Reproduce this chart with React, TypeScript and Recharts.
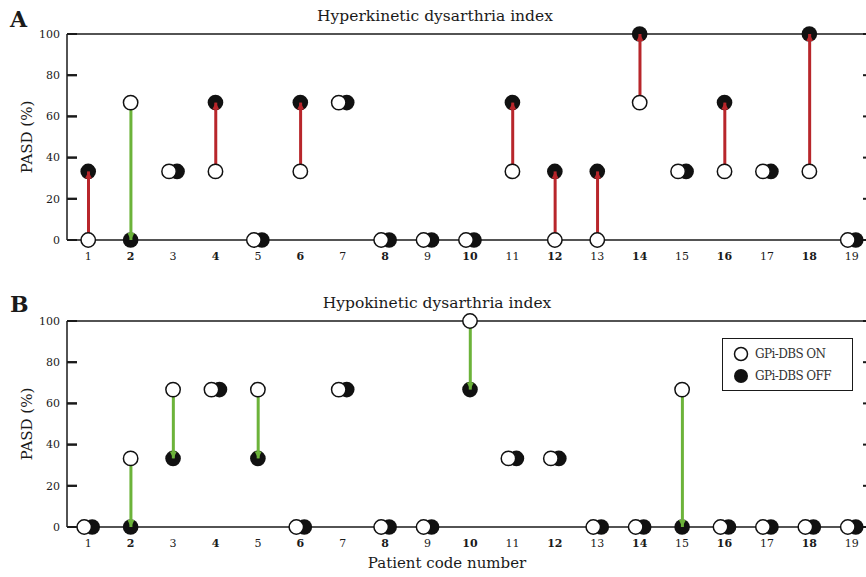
import React from "react"
import {
  ComposedChart,
  XAxis,
  YAxis,
  Scatter,
  Bar,
  ReferenceLine,
  Legend,
} from "recharts"

const PATIENTS = [
  "1", "2", "3", "4", "5", "6", "7", "8", "9", "10",
  "11", "12", "13", "14", "15", "16", "17", "18", "19",
]

// PASD (%) per patient, hyperkinetic index
const HYPER_ON = [0, 66.7, 33.3, 33.3, 0, 33.3, 66.7, 0, 0, 0, 33.3, 0, 0, 66.7, 33.3, 33.3, 33.3, 33.3, 0]
const HYPER_OFF = [33.3, 0, 33.3, 66.7, 0, 66.7, 66.7, 0, 0, 0, 66.7, 33.3, 33.3, 100, 33.3, 66.7, 33.3, 100, 0]

// hypokinetic index
const HYPO_ON = [0, 33.3, 66.7, 66.7, 66.7, 0, 66.7, 0, 0, 100, 33.3, 33.3, 0, 0, 66.7, 0, 0, 0, 0]
const HYPO_OFF = [0, 0, 33.3, 66.7, 33.3, 0, 66.7, 0, 0, 66.7, 33.3, 33.3, 0, 0, 0, 0, 0, 0, 0]

const Y_TICKS = [0, 20, 40, 60, 80, 100]

const RED = "#b8262b"
const GREEN = "#6cb33a"
const INK = "#1a1a1a"
const FONT = "'DejaVu Serif', serif"

type Row = {
  patient: string
  on: number
  off: number
  range: [number, number] | null
}

function buildRows(on: number[], off: number[]): Row[] {
  return PATIENTS.map((p, i) => ({
    patient: p,
    on: on[i],
    off: off[i],
    range: on[i] === off[i] ? null : [Math.min(on[i], off[i]), Math.max(on[i], off[i])],
  }))
}

// label outside, short mark pointing into the plot
const LeftTick = (props: any) => {
  const { x, y, payload } = props
  return (
    <g>
      <rect x={x} y={y - 1} width={10} height={2} fill={INK} />
      <text x={x - 7} y={y} dy="0.35em" textAnchor="end" fontSize={11} fill={INK} fontFamily={FONT}>
        {payload.value}
      </text>
    </g>
  )
}

const BottomTick = (props: any) => {
  const { x, y, payload } = props
  const bold = Number(payload.value) % 2 === 0
  return (
    <text
      x={x}
      y={y + 16}
      dy="0.35em"
      textAnchor="middle"
      fontSize={11}
      fontWeight={bold ? "bold" : "normal"}
      fill={INK}
      fontFamily={FONT}
    >
      {payload.value}
    </text>
  )
}

// inward marks at both ends of a reference line
const FrameTicks = (props: any) => {
  const { x1, x2, y1 } = props
  if (x1 == null || y1 == null) return null
  const left = Math.min(x1, x2)
  const right = Math.max(x1, x2)
  return (
    <g>
      <rect x={left} y={y1 - 1} width={10} height={2} fill={INK} />
      <rect x={right - 10} y={y1 - 1} width={10} height={2} fill={INK} />
    </g>
  )
}

const OffDot = (props: any) => {
  const { cx, cy, payload } = props
  const dx = payload.on === payload.off ? 4 : 0
  return <circle cx={cx + dx} cy={cy} r={7.8} fill="#111" />
}

const OnDot = (props: any) => {
  const { cx, cy, payload } = props
  const dx = payload.on === payload.off ? -4 : 0
  return <circle cx={cx + dx} cy={cy} r={7.2} fill="#fff" stroke="#111" strokeWidth={1.5} />
}

const ChangeStem = (props: any) => {
  const { x, y, width, height, payload } = props
  if (!payload || payload.range == null || height == null) return null
  const worse = payload.off > payload.on
  const color = worse ? RED : GREEN
  const cx = x + width / 2
  const tipY = worse ? y : y + height
  const baseY = worse ? tipY + 7 : tipY - 7
  return (
    <g>
      <rect x={x} y={y} width={width} height={height} fill={color} />
      <polygon
        points={`${cx},${tipY} ${cx - 3.5},${baseY} ${cx + 3.5},${baseY}`}
        fill={color}
      />
    </g>
  )
}

const LegendBox = () => (
  <div
    style={{
      border: `1.5px solid ${INK}`,
      padding: "4px 6px 3px 10px",
      background: "#fff",
      fontFamily: FONT,
      fontSize: 12,
      color: "#333",
      lineHeight: "22px",
      letterSpacing: -0.6,
    }}
  >
    <div style={{ display: "flex", alignItems: "center" }}>
      <svg width={18} height={16} style={{ marginRight: 4 }}>
        <circle cx={8} cy={8} r={6.5} fill="#fff" stroke="#111" strokeWidth={1.5} />
      </svg>
      GPi-DBS ON
    </div>
    <div style={{ display: "flex", alignItems: "center" }}>
      <svg width={18} height={16} style={{ marginRight: 4 }}>
        <circle cx={8} cy={8} r={7} fill="#111" />
      </svg>
      GPi-DBS OFF
    </div>
  </div>
)

const YLabel = (props: any) => {
  const { viewBox } = props
  const cy = viewBox.y + viewBox.height / 2
  return (
    <text
      x={27}
      y={cy}
      transform={`rotate(-90, 27, ${cy})`}
      textAnchor="middle"
      dy="0.35em"
      fontSize={15}
      fill={INK}
      fontFamily={FONT}
    >
      PASD (%)
    </text>
  )
}

interface PanelProps {
  rows: Row[]
  height: number
  xAxisHeight: number
  showLegend?: boolean
}

function Panel({ rows, height, xAxisHeight, showLegend }: PanelProps) {
  return (
    <ComposedChart
      width={900}
      height={height}
      data={rows}
      margin={{ top: 34, right: 27, bottom: 0, left: 0 }}
    >
      <XAxis
        dataKey="patient"
        type="category"
        height={xAxisHeight}
        tickLine={false}
        tickSize={0}
        tickMargin={0}
        axisLine={{ stroke: INK, strokeWidth: 1.5 }}
        tick={<BottomTick />}
        interval={0}
      />
      <YAxis
        type="number"
        domain={[0, 100]}
        ticks={Y_TICKS}
        width={67}
        tickLine={false}
        tickSize={0}
        tickMargin={0}
        axisLine={{ stroke: INK, strokeWidth: 1.5 }}
        tick={<LeftTick />}
        label={<YLabel />}
      />
      <YAxis
        yAxisId="r"
        orientation="right"
        type="number"
        domain={[0, 100]}
        ticks={Y_TICKS}
        width={0}
        tickLine={false}
        tick={false}
        axisLine={{ stroke: INK, strokeWidth: 1.5 }}
      />
      {Y_TICKS.map((v) => (
        <ReferenceLine key={v} y={v} shape={<FrameTicks />} ifOverflow="visible" />
      ))}
      <ReferenceLine y={100} stroke={INK} strokeWidth={1.5} />
      <Scatter
        name="GPi-DBS OFF"
        dataKey="off"
        shape={<OffDot />}
        isAnimationActive={false}
        zIndex={600}
      />
      <Bar
        dataKey="range"
        barSize={3}
        shape={<ChangeStem />}
        legendType="none"
        isAnimationActive={false}
        zIndex={650}
      />
      <Scatter
        name="GPi-DBS ON"
        dataKey="on"
        shape={<OnDot />}
        isAnimationActive={false}
        zIndex={700}
      />
      {showLegend && (
        <Legend
          layout="vertical"
          align="center"
          verticalAlign="middle"
          wrapperStyle={{ top: 51, left: 722, width: 131 }}
          content={<LegendBox />}
        />
      )}
    </ComposedChart>
  )
}

const textStyle: React.CSSProperties = {
  position: "absolute",
  fontFamily: FONT,
  color: INK,
  lineHeight: 1,
  whiteSpace: "nowrap",
}

export default function App() {
  const hyper = buildRows(HYPER_ON, HYPER_OFF)
  const hypo = buildRows(HYPO_ON, HYPO_OFF)
  return (
    <div
      style={{
        position: "absolute",
        left: 0,
        top: 0,
        width: 866,
        height: 577,
        overflow: "hidden",
        background: "#fff",
      }}
    >
      <div style={{ position: "absolute", left: 0, top: 0 }}>
        <Panel rows={hyper} height={280} xAxisHeight={40} />
      </div>
      <div style={{ position: "absolute", left: 0, top: 287 }}>
        <Panel rows={hypo} height={290} xAxisHeight={50} showLegend />
      </div>

      <div style={{ ...textStyle, left: 10, top: 8, fontSize: 22, fontWeight: "bold" }}>A</div>
      <div style={{ ...textStyle, left: 10, top: 293, fontSize: 22, fontWeight: "bold" }}>B</div>

      <div style={{ ...textStyle, left: 435, top: 9, fontSize: 15.5, transform: "translateX(-50%)" }}>
        Hyperkinetic dysarthria index
      </div>
      <div style={{ ...textStyle, left: 437, top: 296, fontSize: 15.5, transform: "translateX(-50%)" }}>
        Hypokinetic dysarthria index
      </div>
      <div style={{ ...textStyle, left: 447, top: 556, fontSize: 15, transform: "translateX(-50%)" }}>
        Patient code number
      </div>
    </div>
  )
}
